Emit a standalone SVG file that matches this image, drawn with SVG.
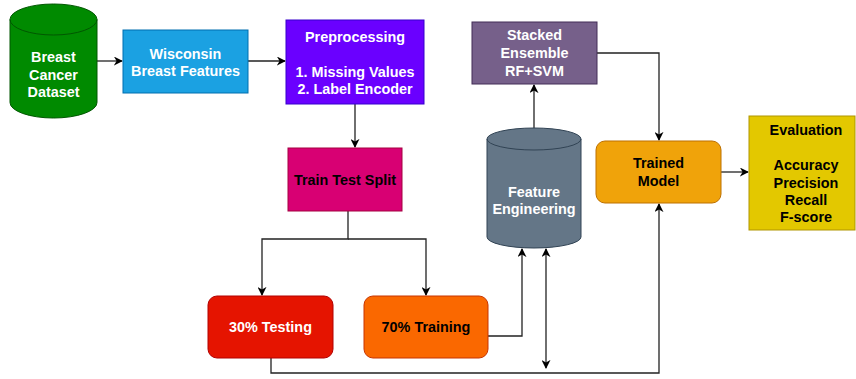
<svg xmlns="http://www.w3.org/2000/svg" width="856" height="379" viewBox="0 0 856 379">
  <style>
    text { font-family: "Liberation Sans", Arial, sans-serif; font-weight: bold; font-size: 14.4px; text-anchor: middle; dominant-baseline: central; }
    .w { fill: #ffffff; }
    .k { fill: #000000; }
    .edge { fill: none; stroke: #222222; stroke-width: 1.3; }
  </style>
  <defs>
    <marker id="arrow" viewBox="0 0 10 10" refX="9" refY="5" markerWidth="9" markerHeight="9" markerUnits="userSpaceOnUse" orient="auto-start-reverse">
      <path d="M0,0 L10,5 L0,10 L3,5 Z" fill="#000000"/>
    </marker>
  </defs>
  <rect width="856" height="379" fill="#ffffff"/>

  <g id="connectors">
    <path class="edge" d="M97,61 L122,61" marker-end="url(#arrow)"/>
    <path class="edge" d="M248,61 L285,61" marker-end="url(#arrow)"/>
    <path class="edge" d="M355,104 L355,147" marker-end="url(#arrow)"/>
    <path class="edge" d="M348,211 L348,239 L262,239 L262,295" marker-end="url(#arrow)"/>
    <path class="edge" d="M348,239 L426,239 L426,295" marker-end="url(#arrow)"/>
    <path class="edge" d="M488,336 L522,336 L522,249" marker-end="url(#arrow)"/>
    <path class="edge" d="M546,249 L546,368" marker-start="url(#arrow)" marker-end="url(#arrow)"/>
    <path class="edge" d="M271,358 L271,373 L659,373 L659,204" marker-end="url(#arrow)"/>
    <path class="edge" d="M534,128 L534,85" marker-end="url(#arrow)"/>
    <path class="edge" d="M597,53 L659,53 L659,140" marker-end="url(#arrow)"/>
    <path class="edge" d="M721,172 L748,172" marker-end="url(#arrow)"/>
  </g>

  <g id="breast-cancer-dataset">
    <path d="M10,19.5 A43.5,15.5 0 0 1 97,19.5 L97,102.5 A43.5,15.5 0 0 1 10,102.5 Z" fill="#008a00" stroke="#005700" stroke-width="1"/>
    <path d="M10,19.5 A43.5,15.5 0 0 0 97,19.5" fill="none" stroke="#005700" stroke-width="1"/>
    <text class="w" x="53.5" y="57">Breast</text>
    <text class="w" x="53.5" y="75">Cancer</text>
    <text class="w" x="53.5" y="92">Dataset</text>
  </g>

  <g id="wisconsin-features">
    <rect x="123" y="30" width="125" height="63" fill="#1ba1e2" stroke="#006eaf"/>
    <text class="w" x="185.5" y="54">Wisconsin</text>
    <text class="w" x="185.5" y="71">Breast Features</text>
  </g>

  <g id="preprocessing">
    <rect x="286" y="20" width="138" height="84" fill="#6a00ff" stroke="#3700cc"/>
    <text class="w" x="355" y="37">Preprocessing</text>
    <text class="w" x="355" y="72">1. Missing Values</text>
    <text class="w" x="355" y="89">2. Label Encoder</text>
  </g>

  <g id="stacked-ensemble">
    <rect x="472" y="22" width="125" height="62" fill="#76608a" stroke="#432d57"/>
    <text class="w" x="534.5" y="35">Stacked</text>
    <text class="w" x="534.5" y="53">Ensemble</text>
    <text class="w" x="534.5" y="71">RF+SVM</text>
  </g>

  <g id="train-test-split">
    <rect x="288" y="148" width="114" height="63" fill="#d80073" stroke="#a50040"/>
    <text class="k" x="345" y="180">Train Test Split</text>
  </g>

  <g id="testing">
    <rect x="208" y="296" width="125" height="62" rx="9" fill="#e51400" stroke="#b20000"/>
    <text class="w" x="270.5" y="327">30% Testing</text>
  </g>

  <g id="training">
    <rect x="364" y="296" width="124" height="62" rx="9" fill="#fa6800" stroke="#c73500"/>
    <text class="k" x="426" y="327">70% Training</text>
  </g>

  <g id="feature-engineering">
    <path d="M487,139 A47,11 0 0 1 581,139 L581,237 A47,11 0 0 1 487,237 Z" fill="#647687" stroke="#314354" stroke-width="1"/>
    <path d="M487,139 A47,11 0 0 0 581,139" fill="none" stroke="#314354" stroke-width="1"/>
    <text class="w" x="534" y="192">Feature</text>
    <text class="w" x="534" y="209">Engineering</text>
  </g>

  <g id="trained-model">
    <rect x="596" y="141" width="125" height="62" rx="9" fill="#f0a30a" stroke="#bd7000"/>
    <text class="k" x="658.5" y="163">Trained</text>
    <text class="k" x="658.5" y="181">Model</text>
  </g>

  <g id="evaluation">
    <rect x="749" y="116" width="106" height="114" fill="#e3c800" stroke="#b09500"/>
    <text class="k" x="806" y="130">Evaluation</text>
    <text class="k" x="806" y="165">Accuracy</text>
    <text class="k" x="806" y="183">Precision</text>
    <text class="k" x="806" y="200">Recall</text>
    <text class="k" x="806" y="217">F-score</text>
  </g>
</svg>
